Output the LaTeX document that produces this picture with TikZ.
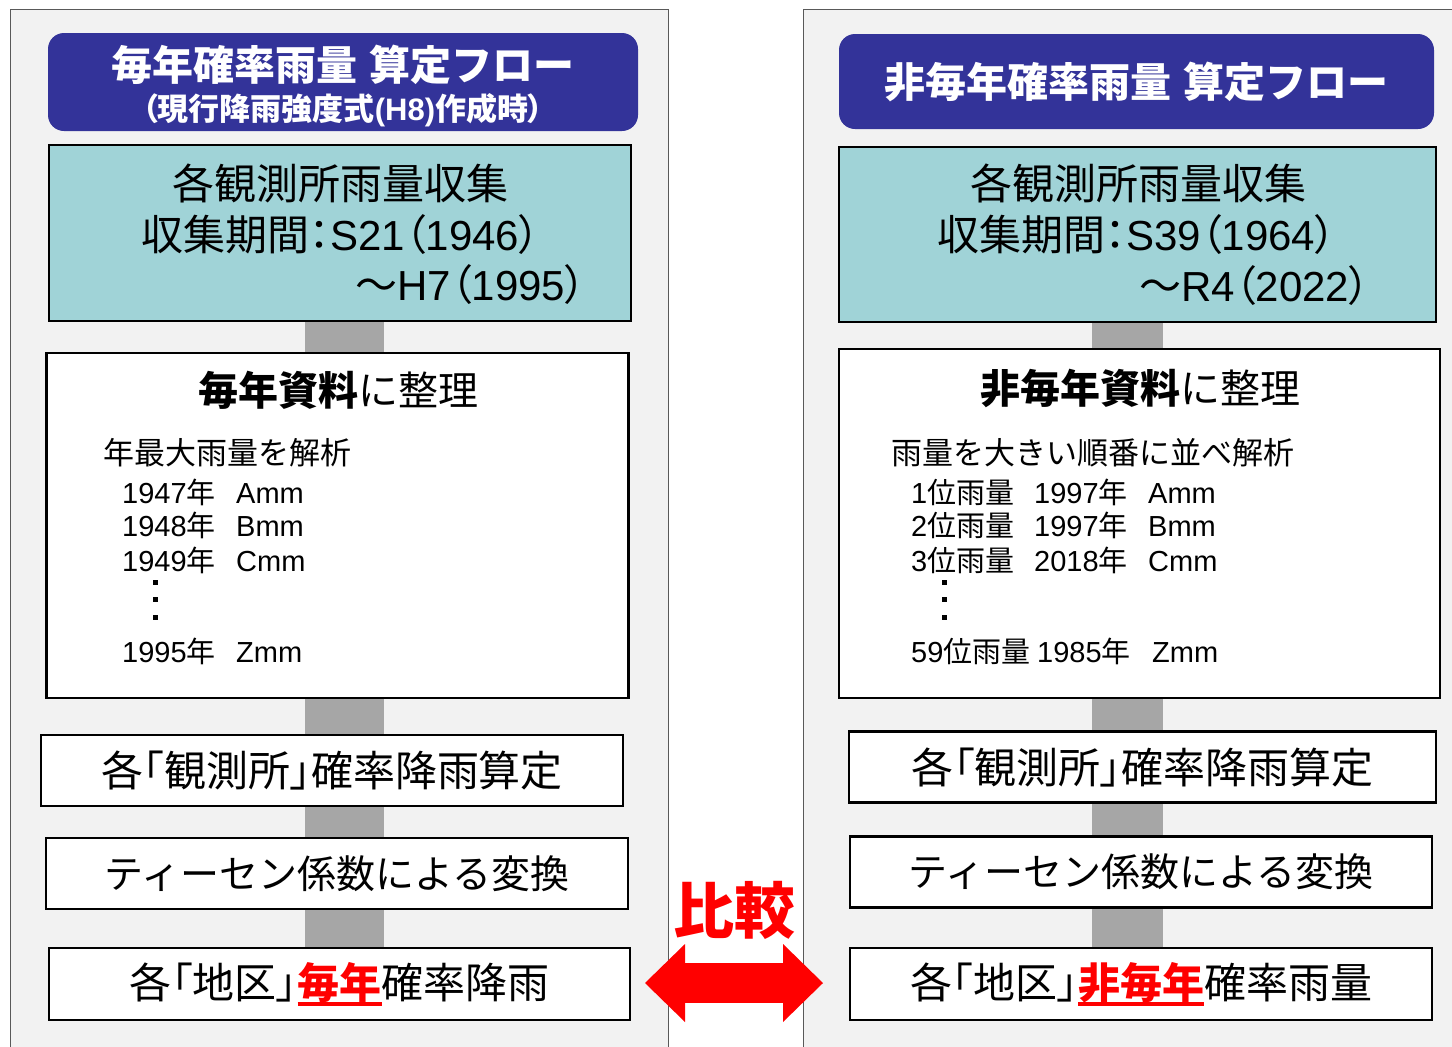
\documentclass[tikz,border=0pt]{standalone}
\usepackage{fontspec}
\setmainfont{Liberation Sans}
\newfontfamily\jpfont{Noto Sans CJK JP}
\newfontfamily\jpnarrow{Noto Sans CJK JP}[RawFeature=+palt]
\usetikzlibrary{arrows.meta,backgrounds}

% Japanese characters in Noto, the rest in Liberation Sans
\newXeTeXintercharclass\jpclass
\newXeTeXintercharclass\jpnclass
\newcount\jpcnt
\newcommand\jprange[2]{\jpcnt=#1\relax
  \loop\XeTeXcharclass\jpcnt=\jpclass
  \ifnum\jpcnt<#2\relax\advance\jpcnt by 1\repeat}
\jprange{"3000}{"30FF}
\jprange{"4E00}{"9FFF}
\jprange{"FF00}{"FFEF}
\XeTeXcharclass"FF08=\jpnclass
\XeTeXcharclass"FF09=\jpnclass
\XeTeXcharclass"FF1A=\jpnclass
\XeTeXcharclass"300C=\jpnclass
\XeTeXcharclass"300D=\jpnclass
\XeTeXinterchartokenstate=1
\XeTeXinterchartoks 0 \jpclass={\jpfont}
\XeTeXinterchartoks 4095 \jpclass={\jpfont}
\XeTeXinterchartoks 0 \jpnclass={\jpnarrow}
\XeTeXinterchartoks 4095 \jpnclass={\jpnarrow}
\XeTeXinterchartoks \jpclass \jpnclass={\jpnarrow}
\XeTeXinterchartoks \jpnclass \jpclass={\jpfont}
\XeTeXinterchartoks \jpclass 0={\rmfamily}
\XeTeXinterchartoks \jpclass 4095={\rmfamily}
\XeTeXinterchartoks \jpnclass 0={\rmfamily}
\XeTeXinterchartoks \jpnclass 4095={\rmfamily}

\definecolor{panelbg}{HTML}{F2F2F2}
\definecolor{panelline}{HTML}{595959}
\definecolor{ttlblue}{HTML}{333399}
\definecolor{obsteal}{HTML}{A0D3D7}
\definecolor{barcol}{HTML}{A6A6A6}

\newcommand{\fsz}[1]{\fontsize{#1}{#1}\selectfont}
\newcommand{\ulred}[1]{{\color{red}\bfseries\setbox0\hbox{#1}\rlap{\rule[-7.5pt]{\wd0}{3.5pt}}\box0}}

\tikzset{
  panel/.style={draw=panelline, fill=panelbg, line width=1pt},
  bar/.style={draw=barcol, line width=#1},
  ttlbox/.style={fill=ttlblue, rounded corners=16pt, inner sep=0},
  obsbox/.style={draw, fill=obsteal, line width=2.5pt, inner sep=0},
  flowbox/.style={draw, fill=white, line width=2.5pt, inner sep=0, minimum height=71pt},
  lbl/.style={inner sep=0, anchor=west},
  cmptip/.tip={Triangle[width=78pt, length=40pt, line width=0pt]},
}

\begin{document}
\begin{tikzpicture}[x=1pt,y=-1pt]
		\useasboundingbox (0,0) rectangle (1452,1047);
		
		% left flow
		\node[ttlbox, minimum width=590pt, minimum height=98pt] (ttlL) at (343,82) {};
		\node[inner sep=0, white, font=\fsz{41}\bfseries] (ttlL1) at (343,65) {毎年確率雨量 算定フロー};
		\node[inner sep=0, white, font=\fsz{31}\bfseries] (ttlL2) at (343,110) {（現行降雨強度式(H8)作成時）};
		
		\node[obsbox, minimum width=582pt, minimum height=176pt] (obsL) at (340,233) {};
		\node[lbl, font=\fsz{42}] (obsL1) at (172,183) {各観測所雨量収集};
		\node[lbl, font=\fsz{42}] (obsL2) at (141,235) {収集期間：S21（1946）};
		\node[lbl, font=\fsz{42}] (obsL3) at (355,285) {～H7（1995）};
		
		\node[flowbox, minimum width=582pt, minimum height=345pt] (datL) at (337.5,525.5) {};
		\node[inner sep=0, font=\fsz{40}] (datL0) at (338,390) {{\bfseries 毎年資料}に整理};
		\node[lbl, font=\fsz{31}] (datL1) at (103,453) {年最大雨量を解析};
		\node[lbl, font=\fsz{29}] (datL2) at (122,492) {\makebox[114pt][l]{1947年}Amm};
		\node[lbl, font=\fsz{29}] (datL3) at (122,525) {\makebox[114pt][l]{1948年}Bmm};
		\node[lbl, font=\fsz{29}] (datL4) at (122,560) {\makebox[114pt][l]{1949年}Cmm};
		\node[lbl, font=\fsz{29}] (datL5) at (122,651) {\makebox[114pt][l]{1995年}Zmm};
		\fill (153,580) rectangle +(5,5);
		\fill (153,597) rectangle +(5,5);
		\fill (153,615) rectangle +(5,5);
		
		\node[flowbox, minimum width=582pt, font=\fsz{42}] (prbL) at (332,770.5) {各「観測所」確率降雨算定};
		\node[flowbox, minimum width=582pt, font=\fsz{39}] (thsL) at (337,873.5) {ティーセン係数による変換};
		\node[flowbox, minimum width=581pt, minimum height=72pt, font=\fsz{42}] (areL) at (339.5,984) {各「地区」\ulred{毎年}確率降雨};
		
		% right flow
		\node[ttlbox, minimum width=595pt, minimum height=95pt, text=white, font=\fsz{41}\bfseries] (ttlR) at (1136.5,81.5) {非毎年確率雨量 算定フロー};
		
		\node[obsbox, minimum width=597pt, minimum height=175pt] (obsR) at (1137.5,234.5) {};
		\node[lbl, font=\fsz{42}] (obsR1) at (970,183) {各観測所雨量収集};
		\node[lbl, font=\fsz{42}] (obsR2) at (937,235) {収集期間：S39（1964）};
		\node[lbl, font=\fsz{42}] (obsR3) at (1139,286) {～R4（2022）};
		
		\node[flowbox, minimum width=601pt, minimum height=349pt] (datR) at (1139.5,523.5) {};
		\node[inner sep=0, font=\fsz{40}] (datR0) at (1140,388) {{\bfseries 非毎年資料}に整理};
		\node[lbl, font=\fsz{31}] (datR1) at (891,453) {雨量を大きい順番に並べ解析};
		\node[lbl, font=\fsz{29}] (datR2) at (911,492) {\makebox[123pt][l]{1位雨量}\makebox[114pt][l]{1997年}Amm};
		\node[lbl, font=\fsz{29}] (datR3) at (911,525) {\makebox[123pt][l]{2位雨量}\makebox[114pt][l]{1997年}Bmm};
		\node[lbl, font=\fsz{29}] (datR4) at (911,560) {\makebox[123pt][l]{3位雨量}\makebox[114pt][l]{2018年}Cmm};
		\node[lbl, font=\fsz{29}] (datR5) at (911,651) {\makebox[126pt][l]{59位雨量}\makebox[115pt][l]{1985年}Zmm};
		\fill (942,580) rectangle +(5,5);
		\fill (942,597) rectangle +(5,5);
		\fill (942,615) rectangle +(5,5);
		
		\node[flowbox, minimum width=587pt, font=\fsz{42}] (prbR) at (1142.5,767) {各「観測所」確率降雨算定};
		\node[flowbox, minimum width=582pt, font=\fsz{39}] (thsR) at (1141,872) {ティーセン係数による変換};
		\node[flowbox, minimum width=582pt, minimum height=72pt, font=\fsz{42}] (areR) at (1141,984) {各「地区」\ulred{非毎年}確率雨量};
		
		% comparison
		\node[inner sep=0, red, font=\fsz{61}\bfseries] (cmp) at (734,910) {比較};
		\coordinate (cmpL) at (645,983);
		\coordinate (cmpR) at (823,983);
		\draw[red, line width=40pt, cmptip-cmptip] (cmpL) -- (cmpR);
		
		\coordinate (barL) at (344,0);
		\coordinate (barR) at (1127.5,0);
		\begin{scope}[on background layer]
		\draw[panel] (10,1047) -- (10,9) -- (668,9) -- (668,1047);
		\draw[panel] (803,1047) -- (803,9) -- (1460,9) -- (1460,1047);
		\draw[bar=79pt] (obsL.south -| barL) -- (areL.north -| barL);
		\draw[bar=71pt] (obsR.south -| barR) -- (areR.north -| barR);
		\end{scope}
\end{tikzpicture}
\end{document}
